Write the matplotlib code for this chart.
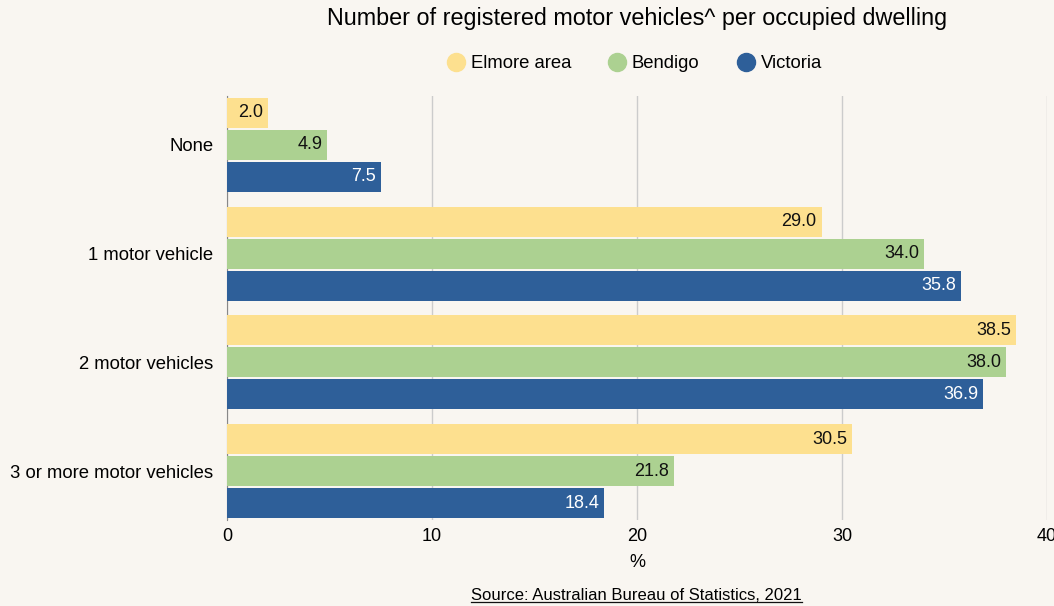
import matplotlib
matplotlib.use('Agg')
import matplotlib.pyplot as plt
from matplotlib.lines import Line2D
import numpy as np

categories = ['None', '1 motor vehicle', '2 motor vehicles', '3 or more motor vehicles']
series = ['Elmore area', 'Bendigo', 'Victoria']
elmore = [2.0, 29.0, 38.5, 30.5]
bendigo = [4.9, 34.0, 38.0, 21.8]
victoria = [7.5, 35.8, 36.9, 18.4]
x_ticks = [0, 10, 20, 30, 40]

colors = ['#fde08f', '#acd191', '#2e5f99']
label_colors = ['#111111', '#111111', '#ffffff']
bg = '#f9f6f1'

plt.rcParams['font.family'] = ['Liberation Sans', 'DejaVu Sans']

fig = plt.figure(figsize=(10.54, 6.06), dpi=100, facecolor=bg)
ax = fig.add_axes([0.2154, 0.1419, 0.778, 0.6997], facecolor=bg)

y = np.arange(len(categories))
offsets = [-0.294, 0.0, 0.294]
h = 0.275
for vals, off, c, lc, name in zip([elmore, bendigo, victoria], offsets, colors, label_colors, series):
    bars = ax.barh(y + off, vals, height=h, color=c, label=name, zorder=3)
    for b, v in zip(bars, vals):
        ax.text(v - 0.25, b.get_y() + b.get_height() / 2, f'{v:.1f}', ha='right', va='center',
                color=lc, fontsize=13, zorder=4)

ax.set_xlim(0, 40)
ax.set_ylim(3.45, -0.45)
ax.set_xticks(x_ticks)
ax.set_xticklabels([str(t) for t in x_ticks], fontsize=13)
ax.set_yticks(y)
ax.set_yticklabels(categories, fontsize=13.3)
ax.tick_params(axis='x', length=0, pad=6)
ax.tick_params(axis='y', length=0, pad=10)
ax.grid(axis='x', color='#cccccc', linewidth=1, zorder=0)
for s in ['top', 'right', 'bottom']:
    ax.spines[s].set_visible(False)
ax.spines['left'].set_color('#888888')
ax.set_xlabel('%', fontsize=13, labelpad=6)

fig.text(0.604, 0.970, 'Number of registered motor vehicles^ per occupied dwelling',
         ha='center', va='center', fontsize=16.8)

handles = [Line2D([0], [0], marker='o', linestyle='', markersize=13, markerfacecolor=c,
                  markeredgecolor=c) for c in colors]
fig.legend(handles, series, loc='center', bbox_to_anchor=(0.599, 0.895), ncol=3,
           frameon=False, fontsize=13.3, handletextpad=0.0, columnspacing=1.7,
           handlelength=1.6)

src = fig.text(0.604, 0.018, 'Source: Australian Bureau of Statistics, 2021',
               ha='center', va='center', fontsize=12)
fig.canvas.draw()
bb = src.get_window_extent().transformed(fig.transFigure.inverted())
fig.add_artist(Line2D([bb.x0, bb.x1], [bb.y0 + 0.001, bb.y0 + 0.001], color='#111111',
                      linewidth=0.9, transform=fig.transFigure))

fig.savefig('out.png', dpi=100, facecolor=bg)
